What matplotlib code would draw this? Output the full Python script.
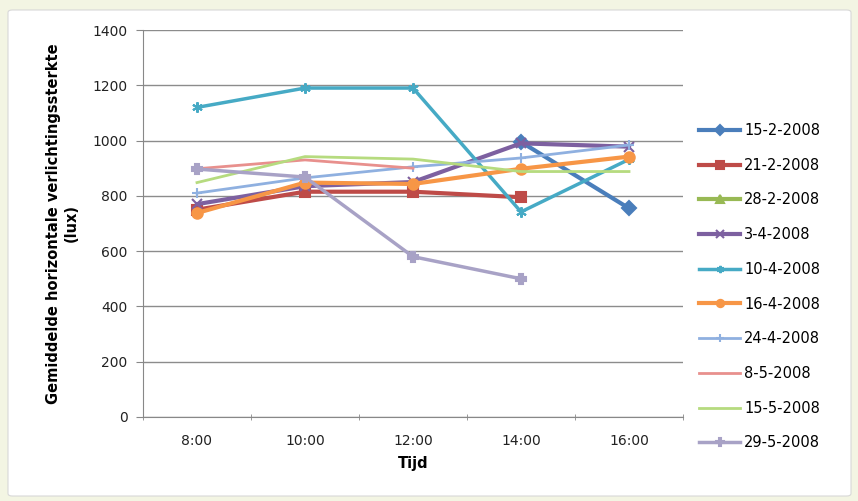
import numpy as np
import matplotlib.pyplot as plt
from matplotlib.patches import FancyBboxPatch

tijden = ['8:00', '10:00', '12:00', '14:00', '16:00']
nan = np.nan

d_15_2 = [nan, nan, nan, 995, 755]
d_21_2 = [750, 815, 815, 795, nan]
d_28_2 = [nan, nan, nan, nan, nan]
d_3_4 = [770, 835, 850, 990, 978]
d_10_4 = [1120, 1190, 1190, 742, 932]
d_16_4 = [738, 848, 843, 898, 942]
d_24_4 = [810, 865, 905, 937, 984]
d_8_5 = [898, 930, 900, nan, nan]
d_15_5 = [848, 942, 933, 888, 888]
d_29_5 = [897, 868, 580, 500, nan]

reeksen = [
    ('15-2-2008', d_15_2, '#4A7EBB', 'D', 3),
    ('21-2-2008', d_21_2, '#BE4B48', 's', 3),
    ('28-2-2008', d_28_2, '#98B954', '^', 3),
    ('3-4-2008', d_3_4, '#7D60A0', 'x', 3),
    ('10-4-2008', d_10_4, '#46AAC5', (6, 2, 0), 2.5),
    ('16-4-2008', d_16_4, '#F79646', 'o', 3),
    ('24-4-2008', d_24_4, '#8FB0E0', '+', 2),
    ('8-5-2008', d_8_5, '#E8908D', 'None', 2),
    ('15-5-2008', d_15_5, '#B6DB7F', 'None', 2),
    ('29-5-2008', d_29_5, '#A8A2C6', 'P', 2.5),
]

fig = plt.figure(figsize=(8.58, 5.01), dpi=100)
fig.patch.set_facecolor('#F3F5E3')
kader = FancyBboxPatch((8/858, 5/501), 843/858, 486/501, boxstyle='round,pad=0,rounding_size=0.005',
                       transform=fig.transFigure, facecolor='white', edgecolor='#D8D8D8', lw=0.8, zorder=-5)
fig.patches.append(kader)

ax = fig.add_axes([143/858, 1 - 417/501, 540/858, 387/501])
ax.patch.set_alpha(0)
x = np.arange(len(tijden))
for naam, y, kleur, m, lw in reeksen:
    ax.plot(x, y, color=kleur, lw=lw, marker=m, markersize=7.5, markeredgewidth=1.5,
            markerfacecolor=kleur, markeredgecolor=kleur, label=naam)

ax.set_xlim(-0.5, 4.5)
ax.set_ylim(0, 1400)
ax.set_yticks(np.arange(0, 1401, 200))
ax.set_xticks(x)
ax.set_xticklabels(tijden)
ax.set_xticks(np.arange(-0.5, 5, 1), minor=True)
ax.tick_params(axis='x', which='major', length=0, pad=12, labelsize=10, colors='#222222')
ax.tick_params(axis='x', which='minor', length=5, direction='inout', color='#888888')
ax.tick_params(axis='y', length=5, color='#888888', labelsize=10, labelcolor='#222222', pad=6)
ax.grid(axis='y', color='#8C8C8C', lw=1)
ax.set_axisbelow(True)
for s in ['top', 'right']:
    ax.spines[s].set_visible(False)
for s in ['left', 'bottom']:
    ax.spines[s].set_color('#888888')

ax.set_xlabel('Tijd', fontsize=10.5, fontweight='bold', labelpad=6)
ax.set_ylabel('Gemiddelde horizontale verlichtingssterkte\n(lux)', fontsize=10.5, fontweight='bold', labelpad=10)

ax.legend(loc='upper left', bbox_to_anchor=(686/858, 1 - 110/501), bbox_transform=fig.transFigure,
          frameon=False, fontsize=10.5, handlelength=2.8, labelspacing=1.35, handletextpad=0.3, markerscale=0.7)

fig.savefig('out.png', dpi=100, facecolor=fig.get_facecolor())
